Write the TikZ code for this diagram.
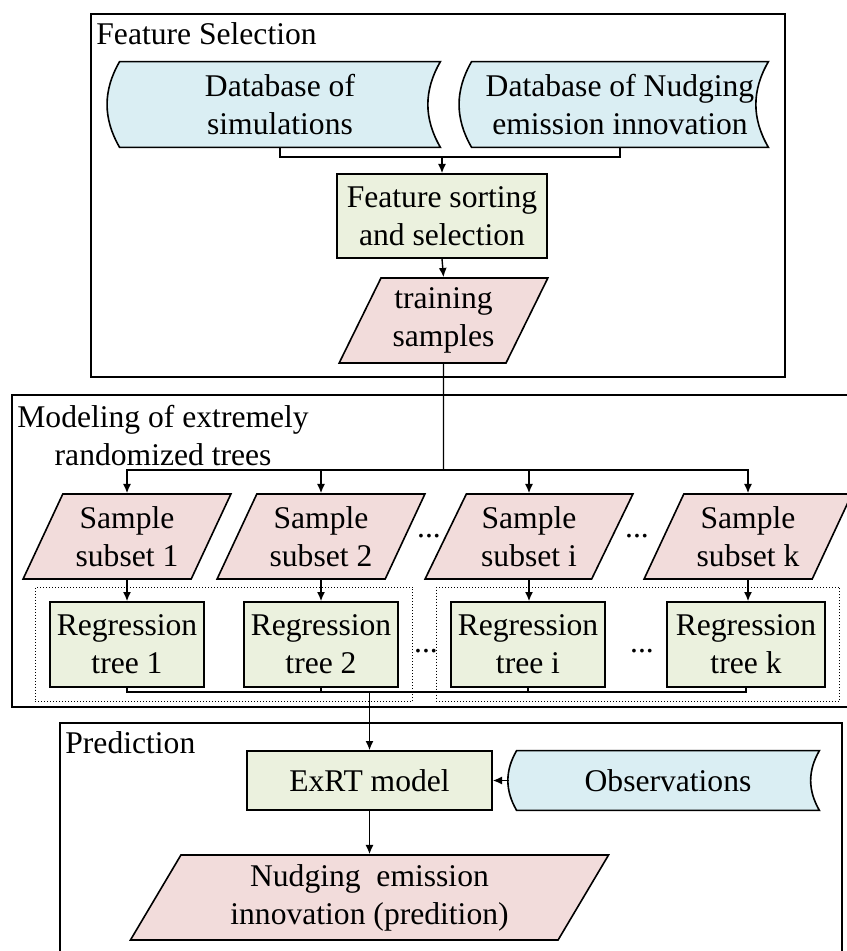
\documentclass[tikz,border=0pt]{standalone}
\usepackage{fontspec}
\setmainfont{Liberation Serif}
\usepackage{tikz}
\usetikzlibrary{arrows.meta,shapes.geometric,fit,calc}
\definecolor{storeblue}{HTML}{DAEEF3}
\definecolor{procgreen}{HTML}{EBF1DE}
\definecolor{datapink}{HTML}{F2DCDB}
\pgfdeclarelayer{background}
\pgfsetlayers{background,main}

\begin{document}
\begin{tikzpicture}[x=0.5pt,y=-0.5pt,>={Latex[length=4.6pt,width=4pt]},
  font=\fontsize{15.8}{19}\selectfont,
  proc/.style={draw,fill=procgreen,line width=0.8pt,align=center,minimum height=42.5pt},
  iodata/.style={draw,fill=datapink,line width=0.8pt,align=center,trapezium,trapezium left angle=64,trapezium right angle=116,trapezium stretches=true,minimum width=104.5pt,minimum height=42.5pt},
  store/.style={align=center,inner sep=0pt,minimum height=42.5pt},
  frame/.style={line width=1pt},
  group/.style={draw,densely dotted,line width=0.5pt,inner sep=7pt},
  conn/.style={line width=0.7pt}]
\useasboundingbox (0,0) rectangle (846,951);

% the three stages
\draw[frame] (91,14) rectangle (785,377);
\draw[frame] (12,395) rectangle (870,707);
\draw[frame] (60,723) rectangle (842,970);
\node[anchor=west,inner sep=0pt] (lblfs) at (96,34) {Feature Selection};
\node[anchor=west,inner sep=0pt,align=center] (lblmod) at (17,436) {Modeling of extremely\\randomized trees};
\node[anchor=west,inner sep=0pt] (lblpred) at (65,743) {Prediction};

% feature selection
\node[store,minimum width=160pt] (dbsim) at (280,104.5) {Database of\\simulations};
\node[store,minimum width=148pt] (dbnudge) at (620,104.5) {Database of Nudging\\emission innovation};
\node[proc,minimum width=105pt,minimum height=42pt] (sort) at (442,216) {Feature sorting\\and selection};
\node[iodata] (train) at (443.5,320.5) {training\\samples};

% extremely randomized trees
\node[iodata] (sub1) at (127,536.5) {Sample\\subset 1};
\node[iodata] (sub2) at (321,536.5) {Sample\\subset 2};
\node[iodata] (subi) at (529,536.5) {Sample\\subset i};
\node[iodata] (subk) at (748,536.5) {Sample\\subset k};
\node[proc,minimum width=76pt] (reg1) at (127,644.5) {Regression\\tree 1};
\node[proc,minimum width=76pt] (reg2) at (321,644.5) {Regression\\tree 2};
\node[proc,minimum width=74pt] (regi) at (528,644.5) {Regression\\tree i};
\node[proc,minimum width=79pt] (regk) at (746,644.5) {Regression\\tree k};
\node[group,fit=(reg1)(reg2)] (grpa) {};
\node[group,fit=(regi)(regk)] (grpb) {};
\node[anchor=base] (dotsa) at (429,537) {...};
\node[anchor=base] (dotsb) at (637,537) {...};
\node[anchor=base] (dotsc) at (426,652) {...};
\node[anchor=base] (dotsd) at (642,652) {...};

% prediction
\node[proc,minimum width=122.5pt,minimum height=29.5pt] (exrt) at (369.5,780.5) {ExRT model};
\node[store,minimum width=151pt,minimum height=29.5pt] (obs) at (668,780.5) {Observations};
\node[iodata,minimum width=239.5pt] (pred) at (369.5,897.5) {Nudging~ emission\\innovation (predition)};

% stored data outlines go behind the text
\begin{pgfonlayer}{background}
\foreach \n in {dbsim,dbnudge,obs}
  \draw[fill=storeblue,line width=0.8pt] (\n.north west) to[bend right=30] (\n.south west) -- (\n.south east) to[bend left=30] (\n.north east) -- cycle;
\end{pgfonlayer}

% connectors
\coordinate (dbjoin) at (442,157);
\coordinate (split) at (443.5,470);
\coordinate (merge) at (369.5,692);
\draw[conn] (dbsim.south) |- (dbjoin) -| (dbnudge.south);
\draw[conn,->] (dbjoin) -- (sort.north);
\draw[conn,->] (sort.south) -- (train.north);
\draw[conn] (train.south) -- (split);
\foreach \s in {sub1,sub2,subi,subk}
  \draw[conn,->] (split) -| (\s.north);
\foreach \s/\r in {sub1/reg1,sub2/reg2,subi/regi,subk/regk}
  \draw[conn,->] (\s.south) -- (\s.south |- \r.north);
\foreach \r in {reg1,reg2,regi,regk}
  \draw[conn] (\r.south) |- (merge);
\draw[conn,->] (merge) -- (exrt.north);
\draw[conn,->] ([xshift=-4pt]obs.west) -- (exrt.east);
\draw[conn,->] (exrt.south) -- (exrt.south |- pred.north);
\end{tikzpicture}
\end{document}
